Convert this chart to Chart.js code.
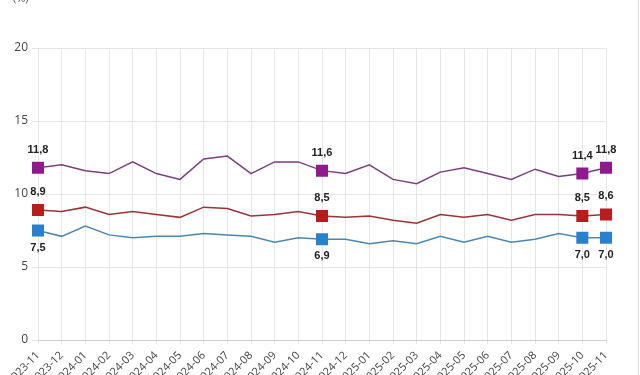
<!DOCTYPE html>
<html>
<head>
<meta charset="utf-8">
<script src="https://cdn.jsdelivr.net/npm/chart.js@4"></script>
<style>
  html, body { margin: 0; padding: 0; background: #fff; overflow: hidden; }
  #wrap { position: relative; width: 640px; height: 375px; overflow: hidden; }
  #edge { position: absolute; left: 638px; top: 0; width: 1px; height: 375px; background: #e2e2e2; }
  #box { position: absolute; left: 0; top: 0; width: 640px; height: 400px; }
</style>
</head>
<body>
<div id="wrap">
  <div id="box"><canvas id="chart"></canvas></div>
  <div id="edge"></div>
</div>
<script>
const months = ['2023-11', '2023-12', '2024-01', '2024-02', '2024-03', '2024-04', '2024-05',
  '2024-06', '2024-07', '2024-08', '2024-09', '2024-10', '2024-11', '2024-12', '2025-01',
  '2025-02', '2025-03', '2025-04', '2025-05', '2025-06', '2025-07', '2025-08', '2025-09',
  '2025-10', '2025-11'];
const purpleSeries = [11.8, 12.0, 11.6, 11.4, 12.2, 11.4, 11.0, 12.4, 12.6, 11.4, 12.2, 12.2, 11.6,
  11.4, 12.0, 11.0, 10.7, 11.5, 11.8, 11.4, 11.0, 11.7, 11.2, 11.4, 11.8];
const redSeries = [8.9, 8.8, 9.1, 8.6, 8.8, 8.6, 8.4, 9.1, 9.0, 8.5, 8.6, 8.8, 8.5,
  8.4, 8.5, 8.2, 8.0, 8.6, 8.4, 8.6, 8.2, 8.6, 8.6, 8.5, 8.6];
const blueSeries = [7.5, 7.1, 7.8, 7.2, 7.0, 7.1, 7.1, 7.3, 7.2, 7.1, 6.7, 7.0, 6.9,
  6.9, 6.6, 6.8, 6.6, 7.1, 6.7, 7.1, 6.7, 6.9, 7.3, 7.0, 7.0];
const yTicks = [0, 5, 10, 15, 20];
const markedIdx = [0, 12, 23, 24]; // points with a square marker and a value label

function markerRadius(ctx) {
    return markedIdx.includes(ctx.dataIndex) ? 8.5 : 0;
}

function series(label, data, lineColor, markColor, labelSide) {
    return {
        label: label,
        data: data,
        borderColor: lineColor,
        borderWidth: 1.5,
        backgroundColor: markColor,
        pointBackgroundColor: markColor,
        pointBorderColor: markColor,
        pointBorderWidth: 0,
        pointStyle: 'rect',
        pointRadius: markerRadius,
        pointHoverRadius: markerRadius,
        tension: 0,
        fill: false,
        labelSide: labelSide
    };
}

// value labels next to the marked points, plus the "(%)" unit at the top
const valueLabels = {
    id: 'valueLabels',
    afterDatasetsDraw(chart) {
        const ctx = chart.ctx;
        ctx.save();
        ctx.fillStyle = '#222';
        ctx.textAlign = 'center';
        ctx.textBaseline = 'middle';
        ctx.font = "bold 11px 'Liberation Sans Narrow', 'Liberation Sans', Arial";
        chart.data.datasets.forEach((ds, i) => {
            const meta = chart.getDatasetMeta(i);
            markedIdx.forEach(j => {
                const pt = meta.data[j];
                const dy = ds.labelSide === 'below' ? 17 : -18;
                ctx.fillText(ds.data[j].toFixed(1).replace('.', ','), pt.x, pt.y + dy);
            });
        });
        ctx.font = "11px 'Open Sans', sans-serif";
        ctx.fillStyle = '#555';
        ctx.textAlign = 'left';
        ctx.fillText('(%)', 13, -1);
        ctx.restore();
    }
};

const ctx = document.getElementById('chart').getContext('2d');
new Chart(ctx, {
    type: 'line',
    data: {
        labels: months,
        datasets: [
            series('Purple', purpleSeries, '#7d3d80', '#8e1a8c', 'above'),
            series('Red', redSeries, '#9b3434', '#b51d1f', 'above'),
            series('Blue', blueSeries, '#4c87b3', '#2b80cb', 'below')
        ]
    },
    options: {
        responsive: true,
        maintainAspectRatio: false,
        animation: false,
        layout: { padding: { top: 48, right: 34, left: 0, bottom: 0 } },
        plugins: {
            legend: { display: false },
            tooltip: { enabled: false }
        },
        scales: {
            x: {
                offset: false,
                afterFit: scale => { scale.height = 60; },
                grid: { color: '#e6e6e6', lineWidth: 1, tickLength: 4, drawTicks: true },
                border: { color: '#cfcfcf' },
                ticks: {
                    autoSkip: false,
                    minRotation: 45,
                    maxRotation: 45,
                    padding: 5,
                    color: '#444',
                    font: { family: "'Open Sans', sans-serif", size: 11 }
                }
            },
            y: {
                min: 0,
                max: 20,
                afterFit: scale => { scale.width = 38; },
                afterBuildTicks: scale => { scale.ticks = yTicks.map(v => ({ value: v })); },
                grid: { color: '#e6e6e6', lineWidth: 1, tickLength: 6 },
                border: { display: false },
                ticks: {
                    padding: 4,
                    color: '#444',
                    font: { family: "'Open Sans', sans-serif", size: 12 }
                }
            }
        }
    },
    plugins: [valueLabels]
});
</script>
</body>
</html>
